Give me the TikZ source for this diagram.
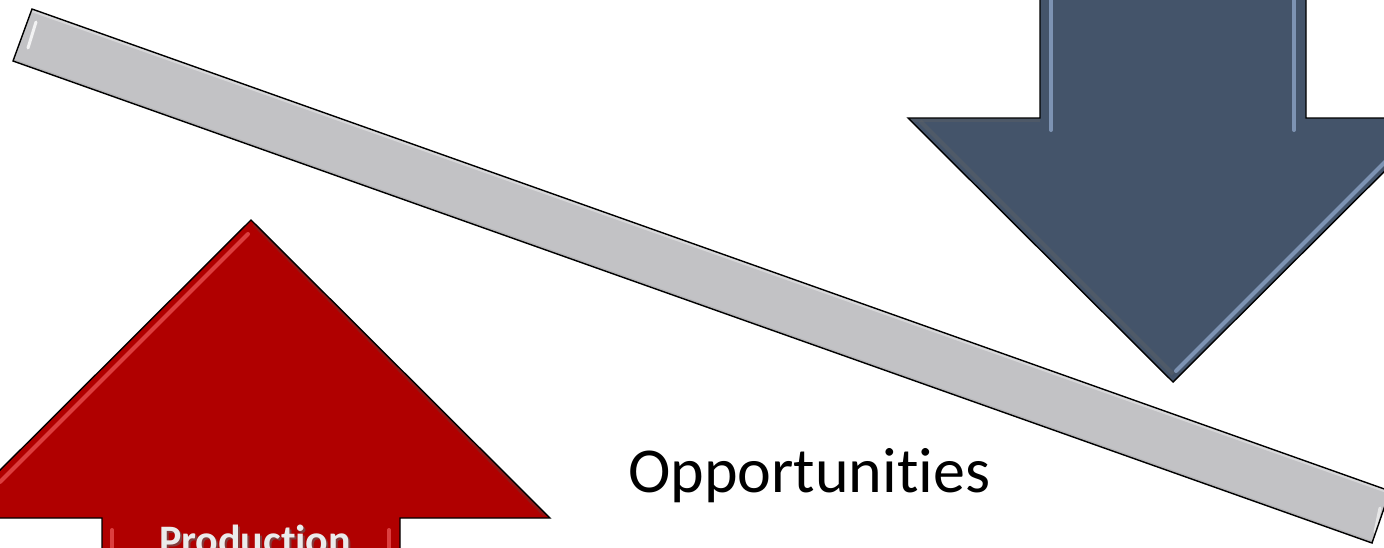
\documentclass[tikz,border=0pt]{standalone}
\usepackage{fontspec}
\setmainfont{Carlito}[Ligatures=NoCommon]
\begin{document}
\begin{tikzpicture}[x=1pt,y=-1pt,
  outline/.style={draw=black,line width=1.4pt,line join=miter},
  bevel/.style={line width=4pt,line cap=round,opacity=0.7}]
\definecolor{barfill}{RGB}{194,194,197}
\definecolor{slate}{RGB}{68,84,106}
\definecolor{slatelight}{RGB}{150,175,210}
\definecolor{darkred}{RGB}{176,0,0}
\definecolor{redlight}{RGB}{240,90,90}
\useasboundingbox (0,0) rectangle (1384,547);
\clip (0,0) rectangle (1384,547);

% tilted seesaw bar
\coordinate (barA) at (32,9);
\coordinate (barC) at (1390,491);
\coordinate (barD) at (1372,543);
\coordinate (barB) at (13,61);
\path[fill=barfill] (barA) -- (barC) -- (barD) -- (barB) -- cycle;
\begin{scope}
  \clip (barA) -- (barC) -- (barD) -- (barB) -- cycle;
  \draw[white,line width=6pt,opacity=0.35] (barA) -- (barC);
  \draw[black!40,line width=4pt,opacity=0.35] (barB) -- (barD);
  \draw[white,line width=3pt,line cap=round,opacity=0.8] (36,22) -- (28,48);
  \draw[white,line width=3pt,line cap=round,opacity=0.6] (1380,508) -- (1375,532);
\end{scope}
\draw[outline] (barA) -- (barC) -- (barD) -- (barB) -- cycle;

% downward arrow (dark slate)
\coordinate (dTip) at (1173,382);
\path[fill=slate] (1040,-10) -- (1040,118) -- (908,118) -- (dTip)
  -- (1438,118) -- (1306,118) -- (1306,-10) -- cycle;
\begin{scope}
  \clip (1040,-10) -- (1040,118) -- (908,118) -- (dTip)
    -- (1438,118) -- (1306,118) -- (1306,-10) -- cycle;
  \draw[slatelight,bevel] (1051,-10) -- (1051,130);
  \draw[slatelight,bevel] (1294,-10) -- (1294,130);
  \draw[slatelight,bevel] (1176,371) -- (1400,147);
  \draw[black!60,line width=4pt,opacity=0.35] (920,121) -- (1173,374);
  \draw[black!60,line width=4pt,opacity=0.3] (908,120) -- (1040,120);
\end{scope}
\draw[outline] (1040,-10) -- (1040,118) -- (908,118) -- (dTip)
  -- (1438,118) -- (1306,118) -- (1306,-10);

% upward arrow (red)
\coordinate (uTip) at (251,220);
\path[fill=darkred] (102,560) -- (102,518) -- (-48,518) -- (uTip)
  -- (550,518) -- (400,518) -- (400,560) -- cycle;
\begin{scope}
  \clip (102,560) -- (102,518) -- (-48,518) -- (uTip)
    -- (550,518) -- (400,518) -- (400,560) -- cycle;
  \draw[redlight,bevel] (248,234) -- (0,482);
  \draw[redlight,bevel] (112,530) -- (112,560);
  \draw[redlight,bevel] (389,530) -- (389,560);
  \draw[black!70,line width=4pt,opacity=0.3] (254,224) -- (545,515);
\end{scope}
\draw[outline] (102,560) -- (102,518) -- (-48,518) -- (uTip)
  -- (550,518) -- (400,518) -- (400,560);

% labels
\node[anchor=base west,inner sep=0pt,font=\fontsize{64}{64}\selectfont]
  (opp) at (628,492) {Opportunities};
\node[anchor=base,inner sep=0pt,text=black!60,opacity=0.6,
  font=\bfseries\fontsize{42}{42}\selectfont] at (257,556) {Production};
\node[anchor=base,inner sep=0pt,text=white!92!black,
  font=\bfseries\fontsize{42}{42}\selectfont] (prod) at (255,554) {Production};
\end{tikzpicture}
\end{document}
